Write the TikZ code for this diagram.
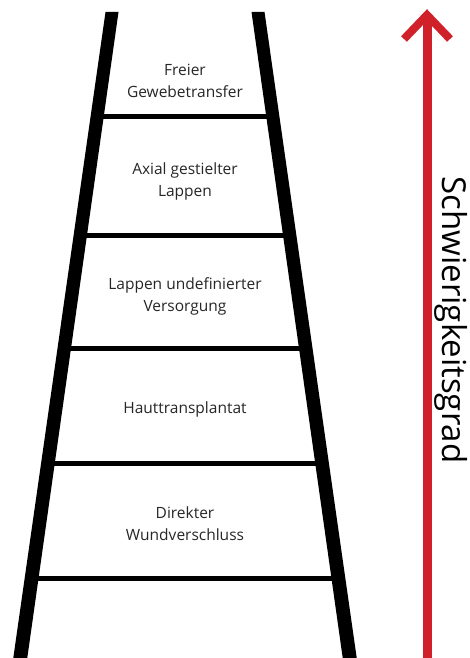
\documentclass[tikz,border=0pt]{standalone}
\usepackage{fontspec}
\setmainfont{Open Sans}
\definecolor{arrowred}{HTML}{D0202A}
\begin{document}
\begin{tikzpicture}[x=1pt,y=-1pt,
  rail/.style={fill=black},
  rung/.style={line width=5pt,black},
  label/.style={align=center,font=\fontsize{15.5}{22}\selectfont,text=black!85}]
\useasboundingbox (0,0) rectangle (470,658);
% rungs
\foreach \yy in {117,235,348,463,578}{
  \pgfmathsetmacro{\xl}{112-0.142415*(\yy-12)}
  \pgfmathsetmacro{\xr}{258+0.142415*(\yy-12)}
  \draw[rung] (\xl,\yy) -- (\xr,\yy);
}
% rails
\fill[rail] (105.5,12) -- (118.5,12) -- (27,660) -- (13,660) -- cycle;
\fill[rail] (251.5,12) -- (264.5,12) -- (357,660) -- (343,660) -- cycle;
% labels
\node[label] (l1) at (185,81) {Freier\\Gewebetransfer};
\node[label] (l2) at (185,181) {Axial gestielter\\Lappen};
\node[label] (l3) at (185,296) {Lappen undefinierter\\Versorgung};
\node[label] (l4) at (185,409) {Hauttransplantat};
\node[label] (l5) at (185,524) {Direkter\\Wundverschluss};
% arrow
\draw[arrowred,line width=9pt] (427,660) -- (427,16);
\draw[arrowred,line width=8pt,line join=miter] (404,39) -- (427,15) -- (450,39);
\node[rotate=-90,text=black,font=\fontsize{33}{40}\selectfont] (t) at (451,320) {Schwierigkeitsgrad};
\end{tikzpicture}
\end{document}
